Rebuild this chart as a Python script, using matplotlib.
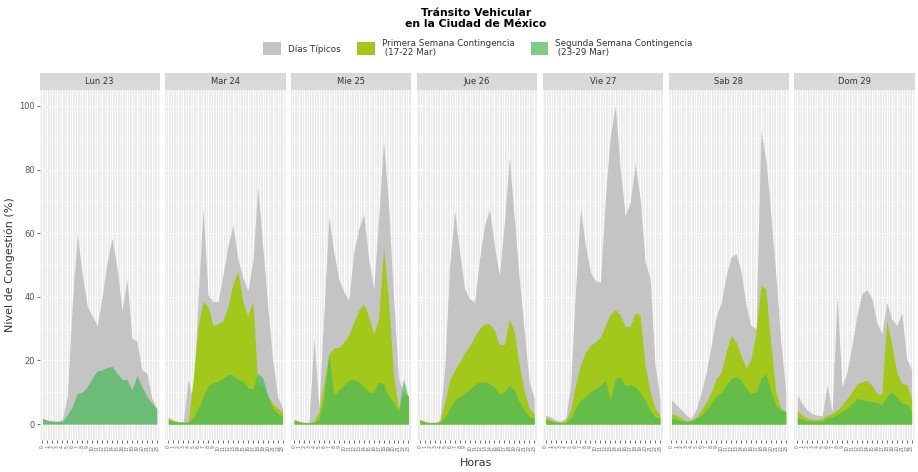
import matplotlib
matplotlib.use("Agg")
import matplotlib.pyplot as plt
from matplotlib.patches import Patch, Rectangle
import numpy as np

# ---------------- data ----------------
dias = ["Lun 23", "Mar 24", "Mie 25", "Jue 26", "Vie 27", "Sab 28", "Dom 29"]
horas = list(range(24))

tipicos_lun = [1.8, 1.2, 1.0, 1.0, 1.5, 9, 38, 59.5, 47, 37, 34, 31, 40, 51, 58.5, 49, 36, 45.5, 27, 26, 17, 16, 8, 5]
tipicos_mar = [2, 1.2, 0.8, 0.8, 14, 7, 40, 67.5, 40.5, 38.5, 38.5, 47, 56, 62.5, 52, 46, 42, 51, 74.5, 56, 37, 20, 8.5, 5]
tipicos_mie = [1.5, 1, 0.6, 0.6, 27, 5, 35, 65, 54, 45.7, 41.5, 39, 54, 61.3, 66, 52, 42.5, 64.5, 89, 68.7, 40, 14.3, 10, 9]
tipicos_jue = [1.5, 0.8, 0.6, 0.6, 1.2, 18, 50, 67, 54, 42.5, 39.4, 38.3, 52, 62.4, 67.5, 56, 46.7, 63.4, 83.8, 64.5, 45.7, 29, 13.3, 8]
tipicos_vie = [2.8, 2.3, 1.3, 1, 1.8, 12, 42, 68, 56, 47.8, 45, 44.6, 70.7, 90.6, 100, 80, 65.5, 69.7, 81.7, 70.7, 51, 45.7, 18.5, 8]
tipicos_sab = [7.5, 6, 4.4, 2.8, 1.8, 4.9, 10, 16.4, 24.8, 34, 38, 46.8, 52.5, 53.5, 47.8, 37.3, 31, 30, 92, 83, 65.5, 46.7, 25.8, 10]
tipicos_dom = [9.1, 6.5, 4.4, 3.3, 2.8, 2.6, 12.2, 3.9, 40, 11.7, 16.4, 24.8, 34.2, 41, 42.3, 39.4, 32, 28.4, 38.3, 33, 31, 35, 20.6, 17]

primera_lun = None
primera_mar = [2, 1.2, 0.6, 0.6, 0.8, 14, 31, 38.5, 37, 31, 31.5, 32.5, 37, 44, 48, 38.5, 34, 38.5, 13, 12, 9, 6.5, 5, 4]
primera_mie = [1.5, 0.8, 0.5, 0.5, 0.8, 4, 13, 22, 24, 24, 25.8, 28, 32, 35.7, 37.8, 34, 28.4, 33, 55.5, 39, 15.4, 5, 9, 9]
primera_jue = [1.4, 0.8, 0.5, 0.5, 0.8, 7, 14, 17, 19.5, 22.5, 24.5, 27.5, 30, 31.5, 31.5, 29.5, 25, 25, 33, 29, 18.5, 10, 5, 3.3]
primera_vie = [2.2, 1.4, 0.8, 0.6, 1, 4.4, 12.2, 18.5, 22.7, 24.8, 25.8, 27.4, 31, 34.7, 36, 34.2, 30.7, 30.7, 35, 34.2, 18.5, 10, 4.9, 2.8]
primera_sab = [3.3, 2.8, 1.8, 1, 1.3, 2.3, 4.4, 7, 10, 14.3, 16.4, 22.7, 27.9, 25.8, 21.6, 17.5, 20.6, 29, 43.6, 42.4, 24.8, 10, 4.9, 3.9]
primera_dom = [4.4, 2.8, 1.8, 1.5, 1.5, 1.8, 2.8, 3.3, 4.4, 6, 8, 10.1, 12.7, 13.3, 13.8, 12.2, 9.6, 9.3, 32.6, 24.8, 16.4, 12.7, 12.5, 8]

segunda_lun = [1.8, 1.2, 0.9, 0.8, 0.8, 3, 5.5, 9.7, 10, 11.8, 14.4, 16.7, 17, 17.8, 18.2, 16, 14, 14, 10.8, 15.3, 11.8, 8.7, 6.6, 4.8]
segunda_mar = [1.2, 0.8, 0.6, 0.6, 0.6, 2, 5, 8.5, 12, 13, 13.5, 14.5, 15.5, 15.5, 14, 13.5, 11.5, 11, 16, 14.5, 9, 5, 3.5, 2.5]
segunda_mie = [1.2, 0.6, 0.4, 0.4, 0.6, 1.5, 8, 22, 9, 10.7, 12.2, 13.8, 14, 13.3, 11.7, 10.1, 10, 13.3, 12.7, 9, 7, 3.9, 14.3, 8]
segunda_jue = [1.2, 0.6, 0.4, 0.4, 0.5, 2, 5, 7.5, 8.7, 9.7, 11, 12.3, 13.2, 13.3, 12.8, 11.5, 9.5, 10, 12.2, 10.7, 7, 4.4, 2.3, 1.8]
segunda_vie = [1.5, 0.9, 0.6, 0.4, 0.5, 1.8, 4.9, 7.5, 8.6, 10.1, 11.2, 12.2, 13.8, 7.5, 14.3, 14.8, 12.2, 12.4, 11.7, 10.1, 7.5, 4.4, 2.3, 1.8]
segunda_sab = [1.8, 1.6, 1, 0.7, 1, 1.8, 2.8, 4.4, 6.5, 9, 10, 12.2, 14.3, 15, 13.8, 11.2, 9.6, 10.1, 14.3, 15.9, 10.1, 6, 4.4, 3.9]
segunda_dom = [2, 1.5, 1, 0.9, 0.9, 1, 1.8, 2.3, 3, 3.9, 4.9, 6.5, 8, 7.7, 7.2, 7, 7, 6, 8.6, 10.1, 8.6, 6.5, 6.5, 3.9]

tipicos = [tipicos_lun, tipicos_mar, tipicos_mie, tipicos_jue, tipicos_vie, tipicos_sab, tipicos_dom]
primera = [primera_lun, primera_mar, primera_mie, primera_jue, primera_vie, primera_sab, primera_dom]
segunda = [segunda_lun, segunda_mar, segunda_mie, segunda_jue, segunda_vie, segunda_sab, segunda_dom]

labels = ["Días Típicos", "Primera Semana Contingencia\n (17-22 Mar)", "Segunda Semana Contingencia\n (23-29 Mar)"]

# ---------------- style ----------------
c_gray = "#C4C4C4"
c_lime = "#A3C81C"
c_green = (75 / 255, 185 / 255, 90 / 255)
a_green = 0.72
panel_bg = "#EBEBEB"
strip_bg = "#D9D9D9"
txt = "#333333"

W, H = 918, 472
fig = plt.figure(figsize=(W / 100, H / 100), dpi=100)

left0, pitch, pw = 39.5, 125.8, 120.3
ptop, pbot = 90, 440
strip_h = 17

for k, dia in enumerate(dias):
    x0 = left0 + k * pitch
    ax = fig.add_axes([x0 / W, 1 - pbot / H, pw / W, (pbot - ptop) / H])
    ax.set_facecolor(panel_bg)
    for s in ax.spines.values():
        s.set_visible(False)
    ax.set_xlim(-0.6, 23.6)
    ax.set_ylim(-5, 105)
    # grid
    ax.set_xticks(horas)
    ax.set_xticks(np.arange(-0.5, 24, 0.5), minor=True)
    ax.set_yticks([0, 20, 40, 60, 80, 100])
    ax.set_yticks([10, 30, 50, 70, 90], minor=True)
    ax.grid(True, which="major", color="white", linewidth=0.7)
    ax.grid(True, which="minor", color="white", linewidth=0.4)
    ax.set_axisbelow(True)

    ax.fill_between(horas, tipicos[k], 0, color=c_gray, linewidth=0, zorder=2)
    if primera[k] is not None:
        ax.fill_between(horas, primera[k], 0, color=c_lime, linewidth=0, zorder=3)
    ax.fill_between(horas, segunda[k], 0, color=c_green, alpha=a_green, linewidth=0, zorder=4)

    ax.set_xticklabels([str(h) for h in horas], rotation=90, fontsize=3.3, color="#666666")
    ax.tick_params(axis="x", which="major", length=2, width=0.5, color=txt, pad=1.5)
    ax.tick_params(axis="both", which="minor", length=0)
    if k == 0:
        ax.set_yticklabels(["0", "20", "40", "60", "80", "100"], fontsize=6, color="#555555")
        ax.tick_params(axis="y", which="major", length=2, width=0.5, color=txt, pad=1.5)
        ax.set_ylabel("Nivel de Congestión (%)", fontsize=8, color=txt, labelpad=3)
    else:
        ax.tick_params(axis="y", which="major", length=0, labelleft=False)

    # strip
    sh = strip_h / (pbot - ptop)
    ax.add_patch(Rectangle((0, 1), 1, sh, transform=ax.transAxes, facecolor=strip_bg,
                           edgecolor="none", clip_on=False))
    ax.text(0.5, 1 + sh / 2, dia, transform=ax.transAxes, ha="center", va="center",
            fontsize=6, color=txt)

fig.text(476 / W, 1 - 463 / H, "Horas", ha="center", va="center", fontsize=8, color=txt)

fig.text(476 / W, 1 - 18.5 / H, "Tránsito Vehicular\nen la Ciudad de México", ha="center",
         va="center", fontsize=7.8, fontweight="bold", color="black",
         linespacing=1.05)

handles = [Patch(facecolor=c_gray, edgecolor="none"),
           Patch(facecolor=c_lime, edgecolor="none"),
           Patch(facecolor=c_green, alpha=a_green, edgecolor="none")]
leg = fig.legend(handles, labels, loc="center", bbox_to_anchor=(478 / W, 1 - 48 / H),
                 ncol=3, frameon=False, handlelength=2.0, handleheight=2.0,
                 handletextpad=0.8, columnspacing=1.9,
                 prop={"size": 6.3})
for t in leg.get_texts():
    t.set_color(txt)
    t.set_linespacing(0.95)

fig.savefig("out.png", dpi=100)
